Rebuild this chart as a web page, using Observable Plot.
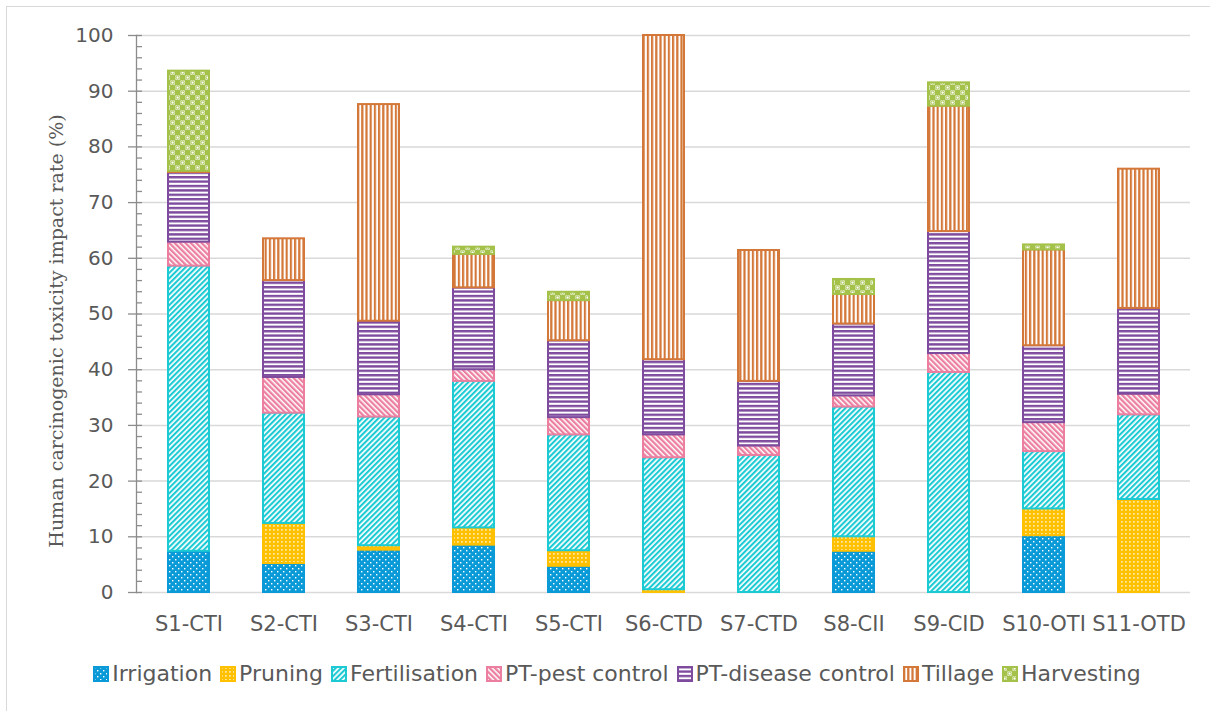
<!DOCTYPE html>
<html>
<head>
<meta charset="utf-8">
<script src="https://cdn.jsdelivr.net/npm/d3@7"></script>
<script src="https://cdn.jsdelivr.net/npm/@observablehq/plot@0.6"></script>
<style>
  html, body { margin: 0; padding: 0; background: #fff; overflow: hidden; }
  body { width: 1210px; height: 711px; position: relative; font-family: "DejaVu Sans", sans-serif; }
  #frame { position: absolute; left: 6px; top: 6px; width: 1220px; height: 720px; border: 1.5px solid #d9d9d9; box-sizing: border-box; }
  #chart { position: absolute; left: 0; top: 0; }
  #legend { position: absolute; left: 0; top: 661px; width: 1234px; display: flex; justify-content: center; align-items: center; color: #595959; font-size: 22px; }
  #legend .item { display: flex; align-items: center; margin: 0 4px; white-space: nowrap; }
  #legend svg { margin-right: 3px; }
</style>
</head>
<body>
<svg width="0" height="0" style="position:absolute">
  <defs>
    <pattern id="p0" width="6" height="6" patternUnits="userSpaceOnUse">
      <rect width="6" height="6" fill="#0a9ad7"/>
      <rect x="1" y="1" width="1.4" height="1.4" fill="#fff"/>
      <rect x="4" y="4" width="1.4" height="1.4" fill="#fff"/>
    </pattern>
    <pattern id="p1" width="4" height="4" patternUnits="userSpaceOnUse">
      <rect width="4" height="4" fill="#ffc000"/>
      <rect x="1.2" y="1.2" width="1.4" height="1.4" fill="#fff"/>
    </pattern>
    <pattern id="p2" width="3.8" height="3.8" patternUnits="userSpaceOnUse" patternTransform="rotate(45)">
      <rect width="3.8" height="3.8" fill="#fff"/>
      <rect width="2.1" height="3.8" fill="#1ccad4"/>
    </pattern>
    <pattern id="p3" width="3.8" height="3.8" patternUnits="userSpaceOnUse" patternTransform="rotate(-45)">
      <rect width="3.8" height="3.8" fill="#fff"/>
      <rect width="2.3" height="3.8" fill="#ec7fa0"/>
    </pattern>
    <pattern id="p4" width="4.4" height="4.4" patternUnits="userSpaceOnUse">
      <rect width="4.4" height="4.4" fill="#fff"/>
      <rect width="4.4" height="2.4" fill="#7e4b9e"/>
    </pattern>
    <pattern id="p5" width="4.2" height="4.2" patternUnits="userSpaceOnUse">
      <rect width="4.2" height="4.2" fill="#fff"/>
      <rect width="2.2" height="4.2" fill="#d4783a"/>
    </pattern>
    <pattern id="p6" width="10" height="10" patternUnits="userSpaceOnUse">
      <rect width="10" height="10" fill="#a4c14a"/>
      <rect x="0.5" y="0.5" width="4.2" height="4.2" fill="#fff"/>
      <rect x="5.5" y="5.5" width="4.2" height="4.2" fill="#fff"/>
      <circle cx="2.6" cy="2.6" r="1.5" fill="none" stroke="#a4c14a" stroke-width="0.9"/>
      <circle cx="7.6" cy="7.6" r="1.5" fill="none" stroke="#a4c14a" stroke-width="0.9"/>
    </pattern>
  </defs>
</svg>
<div id="frame"></div>
<div id="chart"></div>
<div id="legend"></div>
<script>
// ---- data ----
const categories = ["S1-CTI","S2-CTI","S3-CTI","S4-CTI","S5-CTI","S6-CTD","S7-CTD","S8-CII","S9-CID","S10-OTI","S11-OTD"];
const seriesNames = ["Irrigation","Pruning","Fertilisation","PT-pest control","PT-disease control","Tillage","Harvesting"];
const irrigation     = [7.4, 5.2, 7.6, 8.5, 4.7, 0,    0,    7.4, 0,    10.2, 0];
const pruning        = [0,   7.2, 0.8, 3.1, 2.8, 0.5,  0,    2.6, 0,    4.8,  16.7];
const fertilisation  = [51.2,19.8,23.1,26.3,20.8,23.7, 24.6, 23.3,39.5, 10.3, 15.2];
const pestControl    = [4.3, 6.4, 4.0, 2.1, 3.1, 4.1,  1.7,  2.0, 3.4,  5.2,  3.7];
const diseaseControl = [12.5,17.4,13.2,14.7,13.8,13.5, 11.6, 12.9,21.9, 13.8, 15.4];
const tillage        = [0.2, 7.5, 38.9,6.0, 7.2, 58.2, 23.5, 5.3, 22.5, 17.2, 25.0];
const harvesting     = [18.0,0,   0,   1.3, 1.5, 0,    0,    2.7, 4.2,  0.9,  0];
const yTicks = [0,10,20,30,40,50,60,70,80,90,100];
const yTitle = "Human carcinogenic toxicity impact rate (%)";

// ---- styles ----
const seriesValues = [irrigation, pruning, fertilisation, pestControl, diseaseControl, tillage, harvesting];
const strokeColors = ["#0a9ad7","#ffc000","#1ccad4","#ec7fa0","#7e4b9e","#d4783a","#a4c14a"];
const fills = seriesNames.map((_, i) => `url(#p${i})`);

// stacked segments built from the series arrays
const cum = categories.map(() => 0);
const barMarks = seriesValues.map((vals, i) => {
  const rows = categories.map((c, j) => {
    const r = {cat: c, series: seriesNames[i], y1: cum[j], y2: cum[j] + vals[j], v: vals[j]};
    cum[j] += vals[j];
    return r;
  }).filter(d => d.v > 0);
  return Plot.barY(rows, {x: "cat", y1: "y1", y2: "y2", fill: fills[i], stroke: strokeColors[i], strokeWidth: 2});
});

const chart = Plot.plot({
  width: 1210,
  height: 640,
  marginLeft: 136,
  marginRight: 20,
  marginTop: 35,
  marginBottom: 48,
  style: {fontFamily: "'DejaVu Sans', sans-serif", fontSize: "20px", color: "#595959", background: "transparent"},
  x: {type: "band", domain: categories, paddingInner: 0.57, paddingOuter: 0.285, label: null},
  y: {domain: [0, 100], label: null},
  marks: [
    Plot.ruleY(yTicks, {stroke: "#d9d9d9", strokeWidth: 1.5}),
    ...barMarks,
    Plot.frame({anchor: "left", stroke: "#8c8c8c", strokeWidth: 1.3}),
    Plot.axisY({ticks: d3.range(0, 101, 2), tickSize: -6, tickFormat: () => "", stroke: "#8c8c8c", strokeWidth: 1.3}),
    Plot.axisY({ticks: yTicks, tickSize: 8, tickPadding: 15, stroke: "#8c8c8c", strokeWidth: 1.3, fill: "#595959", fontSize: 20}),
    Plot.axisX({tickSize: 0, tickPadding: 24, fill: "#595959", fontSize: 21})
  ]
});
document.getElementById("chart").appendChild(chart);

d3.select(chart).append("text")
  .attr("transform", "translate(63,331) rotate(-90)")
  .attr("text-anchor", "middle")
  .attr("font-family", "'DejaVu Serif', serif")
  .attr("font-size", 19)
  .attr("fill", "#595959")
  .text(yTitle);

// legend
const legend = d3.select("#legend");
seriesNames.forEach((name, i) => {
  const item = legend.append("div").attr("class", "item");
  const sw = item.append("svg").attr("width", 16).attr("height", 16);
  sw.append("rect").attr("x", 1).attr("y", 1).attr("width", 14).attr("height", 14)
    .attr("fill", fills[i]).attr("stroke", strokeColors[i]).attr("stroke-width", 2);
  item.append("span").text(name);
});
</script>
</body>
</html>
